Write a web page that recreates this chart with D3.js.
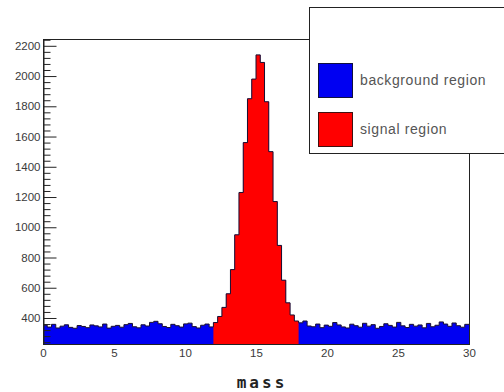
<!DOCTYPE html>
<html>
<head>
<meta charset="utf-8">
<script src="https://cdn.jsdelivr.net/npm/d3@7"></script>
<style>
  body { margin: 0; background: #fff; }
  svg { display: block; }
  .tick text { font-family: "Liberation Sans", Arial, sans-serif; font-size: 11.5px; fill: #3a3a3a; }
</style>
</head>
<body>
<script>
"use strict";

// histogram: 100 bins over mass 0..30 (bin width 0.3)
var massMin = 0, massMax = 30, nBins = 100;
var signalLo = 12, signalHi = 18;

// counts, bins 0..11.7
var bgLeft = [352, 340, 358, 334, 346, 355, 338, 332, 350, 344,
              336, 354, 348, 341, 360, 333, 345, 351, 339, 356,
              364, 342, 335, 355, 347, 371, 378, 362, 344, 337,
              358, 349, 340, 361, 366, 343, 334, 352, 360, 341];
// bins 12.0..17.7 (signal region)
var signal = [370, 410, 470, 560, 720, 950, 1230, 1560, 1850, 1980,
              2140, 2090, 1830, 1500, 1170, 880, 650, 500, 420, 380];
// bins 18.0..29.7
var bgRight = [368, 380, 347, 342, 360, 336, 353, 345, 370, 354,
               341, 334, 359, 349, 339, 365, 346, 356, 332, 344,
               362, 351, 340, 371, 348, 337, 358, 346, 354, 335,
               364, 342, 352, 374, 360, 345, 367, 349, 339, 358];

var xTicks = [0, 5, 10, 15, 20, 25, 30];
var yTicks = [400, 600, 800, 1000, 1200, 1400, 1600, 1800, 2000, 2200];
var legendLabels = ["background region", "signal region"];

var width = 504, height = 392;
var frame = {left: 43, right: 469, top: 39, bottom: 344};
var yMin = 228, yMax = 2245;

var counts = bgLeft.concat(signal, bgRight);
var binW = (massMax - massMin) / nBins;
var bins = counts.map(function (c, i) {
  return {x0: massMin + i * binW, x1: massMin + (i + 1) * binW, v: c};
});

var x = d3.scaleLinear().domain([massMin, massMax]).range([frame.left, frame.right]);
var y = d3.scaleLinear().domain([yMin, yMax]).range([frame.bottom, frame.top]);

var svg = d3.select("body").append("svg")
  .attr("width", width)
  .attr("height", height);

// x labels (ticks hidden under the fill)
svg.append("g")
  .attr("transform", "translate(0," + frame.bottom + ")")
  .call(d3.axisBottom(x).tickValues(xTicks).tickSize(0).tickPadding(5).tickFormat(d3.format("d")))
  .call(function (g) { g.select(".domain").remove(); });

function corners(list) {
  var pts = [];
  list.forEach(function (b) { pts.push([b.x0, b.v]); pts.push([b.x1, b.v]); });
  return pts;
}

var area = d3.area()
  .x(function (d) { return x(d[0]); })
  .y0(y(yMin))
  .y1(function (d) { return y(d[1]); });

var line = d3.line()
  .x(function (d) { return x(d[0]); })
  .y(function (d) { return y(d[1]); });

var isSignal = function (b) { return b.x0 >= signalLo - 1e-9 && b.x1 <= signalHi + 1e-9; };

svg.append("path")
  .attr("d", area(corners(bins)))
  .attr("fill", "#0000f2");

svg.append("path")
  .attr("d", area(corners(bins.filter(isSignal))))
  .attr("fill", "#ff0000");

svg.append("path")
  .attr("d", line(corners(bins)))
  .attr("fill", "none")
  .attr("stroke", "#1a1030")
  .attr("stroke-width", 1);

// frame
svg.append("rect")
  .attr("x", frame.left + 0.5)
  .attr("y", frame.top + 0.5)
  .attr("width", frame.right - frame.left)
  .attr("height", frame.bottom - frame.top)
  .attr("fill", "none")
  .attr("stroke", "#222");

// y axis: majors every 200, minors every 40
var minorTicks = d3.range(240, yMax, 40).filter(function (v) { return v % 200 !== 0; });

svg.append("g")
  .attr("transform", "translate(" + (frame.left + 0.5) + ",0)")
  .call(d3.axisLeft(y).tickValues(minorTicks).tickSize(-7).tickFormat(""))
  .call(function (g) { g.select(".domain").remove(); g.selectAll("line").attr("stroke", "#222"); });

svg.append("g")
  .attr("transform", "translate(" + (frame.left + 0.5) + ",0)")
  .call(d3.axisLeft(y).tickValues(yTicks).tickSizeInner(-13).tickSizeOuter(0).tickPadding(3).tickFormat(d3.format("d")))
  .call(function (g) { g.select(".domain").attr("stroke", "#222"); g.selectAll("line").attr("stroke", "#222"); });

// axis title
svg.append("text")
  .attr("x", 262)
  .attr("y", 388)
  .attr("text-anchor", "middle")
  .style("font-family", "'DejaVu Sans Mono', monospace")
  .style("font-size", "16px")
  .style("font-weight", "bold")
  .style("letter-spacing", "3px")
  .style("fill", "#222")
  .text("mass");

// legend
var leg = svg.append("g").attr("transform", "translate(309,7)");
leg.append("rect")
  .attr("x", 0.5).attr("y", 0.5)
  .attr("width", 220).attr("height", 146)
  .attr("fill", "#fff")
  .attr("stroke", "#222");

var legColors = ["#0000f2", "#ff0000"];
var legBorders = ["#101040", "#401010"];
legendLabels.forEach(function (lab, i) {
  var yy = 56 + i * 49;
  leg.append("rect")
    .attr("x", 9.5).attr("y", yy + 0.5)
    .attr("width", 34).attr("height", 34)
    .attr("fill", legColors[i])
    .attr("stroke", legBorders[i]);
  leg.append("text")
    .attr("x", 51)
    .attr("y", yy + 17)
    .attr("dy", "0.35em")
    .style("font-family", "'Liberation Sans', Arial, sans-serif")
    .style("font-size", "14px")
    .style("letter-spacing", "0.6px")
    .style("fill", "#555")
    .text(lab);
});
</script>
</body>
</html>
